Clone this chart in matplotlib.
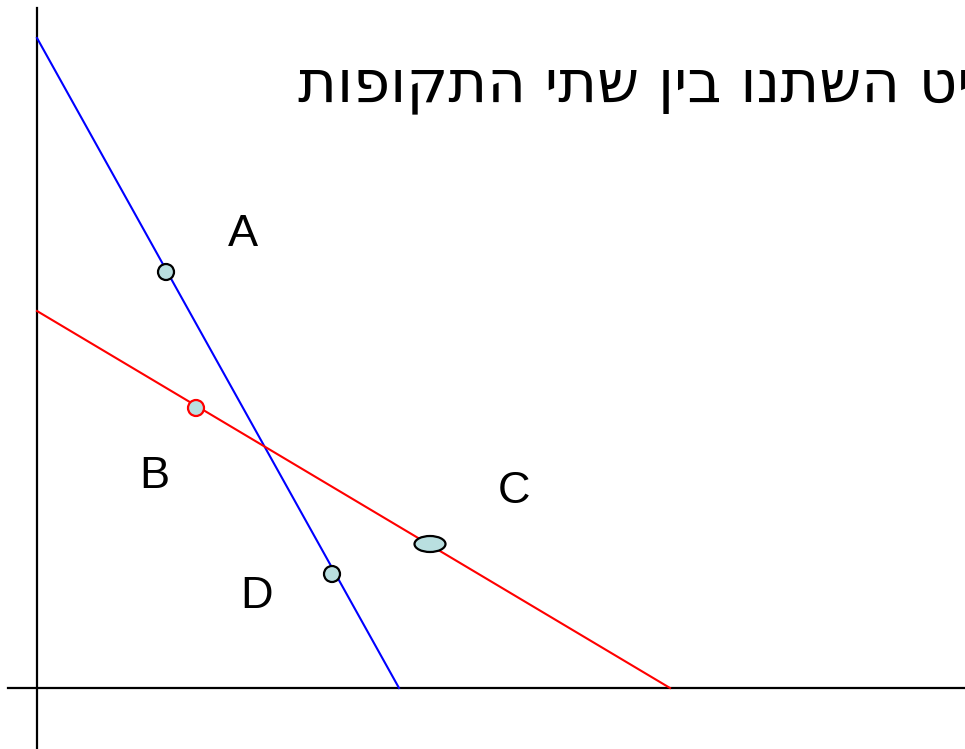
import matplotlib
matplotlib.use("Agg")
import matplotlib.pyplot as plt
from matplotlib.patches import Ellipse

plt.rcParams["font.family"] = ["Liberation Sans", "DejaVu Sans"]

# --- data (origin at the axis crossing, 1 unit = 1 pixel) ---
BLUE_X = [0, 362]
BLUE_Y = [650, 0]
RED_X = [0, 633]
RED_Y = [377, 0]

# points on the lines: x, y, width, height, edge colour
POINT_X = [129, 159, 393, 295]
POINT_Y = [416, 280, 144, 114]
POINT_W = [16, 16, 31, 16]
POINT_H = [16, 16, 16, 16]
POINT_EDGE = ["black", "red", "black", "black"]

LABELS = ["A", "B", "C", "D"]
LABEL_X = [205.5, 117, 477, 219.5]
LABEL_Y = [442, 200, 185, 80]

# Hebrew title (logical order, reversed for display since matplotlib has no bidi)
TITLE = "יט השתנו בין שתי התקופות"

fig = plt.figure(figsize=(9.65, 7.49), dpi=100)
ax = fig.add_axes([0, 0, 1, 1])
ax.set_xlim(-37, 928)
ax.set_ylim(-61, 688)
ax.axis("off")

# axes
ax.plot([0, 0], [-61, 680], color="black", linewidth=1.6)
ax.plot([-29, 928], [0, 0], color="black", linewidth=1.6)

ax.plot(BLUE_X, BLUE_Y, color="blue", linewidth=1.5)
ax.plot(RED_X, RED_Y, color="red", linewidth=1.5)

for x, y, w, h, ec in zip(POINT_X, POINT_Y, POINT_W, POINT_H, POINT_EDGE):
    ax.add_patch(Ellipse((x, y), w, h, facecolor="#b9dfe0", edgecolor=ec,
                         linewidth=1.6, zorder=3))

for lab, x, y in zip(LABELS, LABEL_X, LABEL_Y):
    ax.text(x, y, lab, fontsize=32.5, ha="center", va="baseline")

# the title runs past the right edge in the reference as well
ax.text(261, 587, TITLE[::-1], fontsize=42.7, ha="left", va="baseline",
        family="DejaVu Sans", clip_on=False)

fig.savefig("out.png", dpi=100)
